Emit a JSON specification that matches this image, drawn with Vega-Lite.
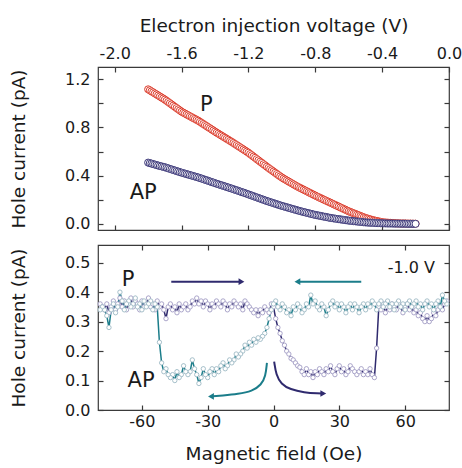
{
"$schema": "https://vega.github.io/schema/vega-lite/v6.json",
"background": "white",
"padding": {"left": 8, "top": 15, "right": 5, "bottom": 0},
"spacing": 10,
"resolve": {"scale": {"color": "independent", "stroke": "independent"}},
"config": {
 "view": {"stroke": "#3a3a3a", "strokeWidth": 1.2},
 "axis": {"grid": false, "domain": false, "tickColor": "#3a3a3a", "tickWidth": 1.2,
  "labelFont": "DejaVu Sans", "labelFontSize": 16, "labelColor": "#1a1a1a",
  "titleFont": "DejaVu Sans", "titleFontSize": 18.5, "titleFontWeight": "normal", "titleColor": "#1a1a1a",
  "labelOverlap": false, "labelFlush": false},
 "text": {"font": "DejaVu Sans", "color": "#1a1a1a"}
},
"datasets": {
 "iv": [
{"s":"P","v":-1.80,"i":1.115},{"s":"P","v":-1.79,"i":1.107},{"s":"P","v":-1.78,"i":1.098},{"s":"P","v":-1.77,"i":1.090},{"s":"P","v":-1.76,"i":1.081},
{"s":"P","v":-1.75,"i":1.073},{"s":"P","v":-1.74,"i":1.064},{"s":"P","v":-1.73,"i":1.056},{"s":"P","v":-1.72,"i":1.047},{"s":"P","v":-1.71,"i":1.039},
{"s":"P","v":-1.70,"i":1.030},{"s":"P","v":-1.69,"i":1.020},{"s":"P","v":-1.68,"i":1.010},{"s":"P","v":-1.67,"i":1.000},{"s":"P","v":-1.66,"i":0.990},
{"s":"P","v":-1.65,"i":0.980},{"s":"P","v":-1.64,"i":0.970},{"s":"P","v":-1.63,"i":0.960},{"s":"P","v":-1.62,"i":0.950},{"s":"P","v":-1.61,"i":0.940},
{"s":"P","v":-1.60,"i":0.930},{"s":"P","v":-1.59,"i":0.922},{"s":"P","v":-1.58,"i":0.915},{"s":"P","v":-1.57,"i":0.907},{"s":"P","v":-1.56,"i":0.900},
{"s":"P","v":-1.55,"i":0.892},{"s":"P","v":-1.54,"i":0.885},{"s":"P","v":-1.53,"i":0.877},{"s":"P","v":-1.52,"i":0.870},{"s":"P","v":-1.51,"i":0.862},
{"s":"P","v":-1.50,"i":0.855},{"s":"P","v":-1.49,"i":0.846},{"s":"P","v":-1.48,"i":0.837},{"s":"P","v":-1.47,"i":0.828},{"s":"P","v":-1.46,"i":0.819},
{"s":"P","v":-1.45,"i":0.810},{"s":"P","v":-1.44,"i":0.801},{"s":"P","v":-1.43,"i":0.792},{"s":"P","v":-1.42,"i":0.783},{"s":"P","v":-1.41,"i":0.774},
{"s":"P","v":-1.40,"i":0.765},{"s":"P","v":-1.39,"i":0.756},{"s":"P","v":-1.38,"i":0.748},{"s":"P","v":-1.37,"i":0.739},{"s":"P","v":-1.36,"i":0.731},
{"s":"P","v":-1.35,"i":0.722},{"s":"P","v":-1.34,"i":0.714},{"s":"P","v":-1.33,"i":0.705},{"s":"P","v":-1.32,"i":0.697},{"s":"P","v":-1.31,"i":0.688},
{"s":"P","v":-1.30,"i":0.680},{"s":"P","v":-1.29,"i":0.671},{"s":"P","v":-1.28,"i":0.662},{"s":"P","v":-1.27,"i":0.653},{"s":"P","v":-1.26,"i":0.644},
{"s":"P","v":-1.25,"i":0.635},{"s":"P","v":-1.24,"i":0.626},{"s":"P","v":-1.23,"i":0.617},{"s":"P","v":-1.22,"i":0.608},{"s":"P","v":-1.21,"i":0.599},
{"s":"P","v":-1.20,"i":0.590},{"s":"P","v":-1.19,"i":0.579},{"s":"P","v":-1.18,"i":0.569},{"s":"P","v":-1.17,"i":0.558},{"s":"P","v":-1.16,"i":0.548},
{"s":"P","v":-1.15,"i":0.537},{"s":"P","v":-1.14,"i":0.527},{"s":"P","v":-1.13,"i":0.516},{"s":"P","v":-1.12,"i":0.506},{"s":"P","v":-1.11,"i":0.495},
{"s":"P","v":-1.10,"i":0.485},{"s":"P","v":-1.09,"i":0.474},{"s":"P","v":-1.08,"i":0.464},{"s":"P","v":-1.07,"i":0.454},{"s":"P","v":-1.06,"i":0.444},
{"s":"P","v":-1.05,"i":0.434},{"s":"P","v":-1.04,"i":0.424},{"s":"P","v":-1.03,"i":0.414},{"s":"P","v":-1.02,"i":0.404},{"s":"P","v":-1.01,"i":0.394},
{"s":"P","v":-1.00,"i":0.385},{"s":"P","v":-0.99,"i":0.376},{"s":"P","v":-0.98,"i":0.368},{"s":"P","v":-0.97,"i":0.360},{"s":"P","v":-0.96,"i":0.352},
{"s":"P","v":-0.95,"i":0.344},{"s":"P","v":-0.94,"i":0.336},{"s":"P","v":-0.93,"i":0.328},{"s":"P","v":-0.92,"i":0.320},{"s":"P","v":-0.91,"i":0.312},
{"s":"P","v":-0.90,"i":0.305},{"s":"P","v":-0.89,"i":0.298},{"s":"P","v":-0.88,"i":0.291},{"s":"P","v":-0.87,"i":0.284},{"s":"P","v":-0.86,"i":0.277},
{"s":"P","v":-0.85,"i":0.270},{"s":"P","v":-0.84,"i":0.263},{"s":"P","v":-0.83,"i":0.256},{"s":"P","v":-0.82,"i":0.249},{"s":"P","v":-0.81,"i":0.242},
{"s":"P","v":-0.80,"i":0.235},{"s":"P","v":-0.79,"i":0.228},{"s":"P","v":-0.78,"i":0.222},{"s":"P","v":-0.77,"i":0.215},{"s":"P","v":-0.76,"i":0.209},
{"s":"P","v":-0.75,"i":0.202},{"s":"P","v":-0.74,"i":0.196},{"s":"P","v":-0.73,"i":0.189},{"s":"P","v":-0.72,"i":0.183},{"s":"P","v":-0.71,"i":0.176},
{"s":"P","v":-0.70,"i":0.170},{"s":"P","v":-0.69,"i":0.163},{"s":"P","v":-0.68,"i":0.157},{"s":"P","v":-0.67,"i":0.150},{"s":"P","v":-0.66,"i":0.144},
{"s":"P","v":-0.65,"i":0.137},{"s":"P","v":-0.64,"i":0.131},{"s":"P","v":-0.63,"i":0.124},{"s":"P","v":-0.62,"i":0.118},{"s":"P","v":-0.61,"i":0.111},
{"s":"P","v":-0.60,"i":0.105},{"s":"P","v":-0.59,"i":0.099},{"s":"P","v":-0.58,"i":0.094},{"s":"P","v":-0.57,"i":0.088},{"s":"P","v":-0.56,"i":0.083},
{"s":"P","v":-0.55,"i":0.077},{"s":"P","v":-0.54,"i":0.072},{"s":"P","v":-0.53,"i":0.066},{"s":"P","v":-0.52,"i":0.061},{"s":"P","v":-0.51,"i":0.055},
{"s":"P","v":-0.50,"i":0.050},{"s":"P","v":-0.49,"i":0.046},{"s":"P","v":-0.48,"i":0.042},{"s":"P","v":-0.47,"i":0.038},{"s":"P","v":-0.46,"i":0.034},
{"s":"P","v":-0.45,"i":0.030},{"s":"P","v":-0.44,"i":0.027},{"s":"P","v":-0.43,"i":0.024},{"s":"P","v":-0.42,"i":0.021},{"s":"P","v":-0.41,"i":0.018},
{"s":"P","v":-0.40,"i":0.015},{"s":"P","v":-0.39,"i":0.013},{"s":"P","v":-0.38,"i":0.012},{"s":"P","v":-0.37,"i":0.011},{"s":"P","v":-0.36,"i":0.010},
{"s":"P","v":-0.35,"i":0.009},{"s":"P","v":-0.34,"i":0.008},{"s":"P","v":-0.33,"i":0.007},{"s":"P","v":-0.32,"i":0.006},{"s":"P","v":-0.31,"i":0.005},
{"s":"P","v":-0.30,"i":0.005},{"s":"P","v":-0.29,"i":0.004},{"s":"P","v":-0.28,"i":0.004},{"s":"P","v":-0.27,"i":0.004},{"s":"P","v":-0.26,"i":0.004},
{"s":"P","v":-0.25,"i":0.003},{"s":"P","v":-0.24,"i":0.003},{"s":"P","v":-0.23,"i":0.003},{"s":"P","v":-0.22,"i":0.002},{"s":"P","v":-0.21,"i":0.002},
{"s":"P","v":-0.20,"i":0.002},
{"s":"AP","v":-1.80,"i":0.508},{"s":"AP","v":-1.79,"i":0.504},{"s":"AP","v":-1.78,"i":0.500},{"s":"AP","v":-1.77,"i":0.496},{"s":"AP","v":-1.76,"i":0.492},
{"s":"AP","v":-1.75,"i":0.488},{"s":"AP","v":-1.74,"i":0.484},{"s":"AP","v":-1.73,"i":0.480},{"s":"AP","v":-1.72,"i":0.477},{"s":"AP","v":-1.71,"i":0.473},
{"s":"AP","v":-1.70,"i":0.470},{"s":"AP","v":-1.69,"i":0.465},{"s":"AP","v":-1.68,"i":0.461},{"s":"AP","v":-1.67,"i":0.456},{"s":"AP","v":-1.66,"i":0.452},
{"s":"AP","v":-1.65,"i":0.447},{"s":"AP","v":-1.64,"i":0.443},{"s":"AP","v":-1.63,"i":0.438},{"s":"AP","v":-1.62,"i":0.434},{"s":"AP","v":-1.61,"i":0.429},
{"s":"AP","v":-1.60,"i":0.425},{"s":"AP","v":-1.59,"i":0.421},{"s":"AP","v":-1.58,"i":0.417},{"s":"AP","v":-1.57,"i":0.413},{"s":"AP","v":-1.56,"i":0.409},
{"s":"AP","v":-1.55,"i":0.405},{"s":"AP","v":-1.54,"i":0.401},{"s":"AP","v":-1.53,"i":0.397},{"s":"AP","v":-1.52,"i":0.393},{"s":"AP","v":-1.51,"i":0.389},
{"s":"AP","v":-1.50,"i":0.385},{"s":"AP","v":-1.49,"i":0.380},{"s":"AP","v":-1.48,"i":0.376},{"s":"AP","v":-1.47,"i":0.371},{"s":"AP","v":-1.46,"i":0.366},
{"s":"AP","v":-1.45,"i":0.362},{"s":"AP","v":-1.44,"i":0.357},{"s":"AP","v":-1.43,"i":0.352},{"s":"AP","v":-1.42,"i":0.347},{"s":"AP","v":-1.41,"i":0.343},
{"s":"AP","v":-1.40,"i":0.338},{"s":"AP","v":-1.39,"i":0.333},{"s":"AP","v":-1.38,"i":0.329},{"s":"AP","v":-1.37,"i":0.324},{"s":"AP","v":-1.36,"i":0.320},
{"s":"AP","v":-1.35,"i":0.315},{"s":"AP","v":-1.34,"i":0.311},{"s":"AP","v":-1.33,"i":0.306},{"s":"AP","v":-1.32,"i":0.302},{"s":"AP","v":-1.31,"i":0.297},
{"s":"AP","v":-1.30,"i":0.293},{"s":"AP","v":-1.29,"i":0.288},{"s":"AP","v":-1.28,"i":0.283},{"s":"AP","v":-1.27,"i":0.279},{"s":"AP","v":-1.26,"i":0.274},
{"s":"AP","v":-1.25,"i":0.269},{"s":"AP","v":-1.24,"i":0.264},{"s":"AP","v":-1.23,"i":0.260},{"s":"AP","v":-1.22,"i":0.255},{"s":"AP","v":-1.21,"i":0.250},
{"s":"AP","v":-1.20,"i":0.245},{"s":"AP","v":-1.19,"i":0.240},{"s":"AP","v":-1.18,"i":0.235},{"s":"AP","v":-1.17,"i":0.230},{"s":"AP","v":-1.16,"i":0.225},
{"s":"AP","v":-1.15,"i":0.220},{"s":"AP","v":-1.14,"i":0.215},{"s":"AP","v":-1.13,"i":0.210},{"s":"AP","v":-1.12,"i":0.205},{"s":"AP","v":-1.11,"i":0.200},
{"s":"AP","v":-1.10,"i":0.195},{"s":"AP","v":-1.09,"i":0.190},{"s":"AP","v":-1.08,"i":0.186},{"s":"AP","v":-1.07,"i":0.181},{"s":"AP","v":-1.06,"i":0.177},
{"s":"AP","v":-1.05,"i":0.172},{"s":"AP","v":-1.04,"i":0.168},{"s":"AP","v":-1.03,"i":0.163},{"s":"AP","v":-1.02,"i":0.159},{"s":"AP","v":-1.01,"i":0.154},
{"s":"AP","v":-1.00,"i":0.150},{"s":"AP","v":-0.99,"i":0.146},{"s":"AP","v":-0.98,"i":0.142},{"s":"AP","v":-0.97,"i":0.138},{"s":"AP","v":-0.96,"i":0.134},
{"s":"AP","v":-0.95,"i":0.130},{"s":"AP","v":-0.94,"i":0.126},{"s":"AP","v":-0.93,"i":0.122},{"s":"AP","v":-0.92,"i":0.118},{"s":"AP","v":-0.91,"i":0.114},
{"s":"AP","v":-0.90,"i":0.110},{"s":"AP","v":-0.89,"i":0.106},{"s":"AP","v":-0.88,"i":0.103},{"s":"AP","v":-0.87,"i":0.099},{"s":"AP","v":-0.86,"i":0.096},
{"s":"AP","v":-0.85,"i":0.092},{"s":"AP","v":-0.84,"i":0.089},{"s":"AP","v":-0.83,"i":0.085},{"s":"AP","v":-0.82,"i":0.082},{"s":"AP","v":-0.81,"i":0.078},
{"s":"AP","v":-0.80,"i":0.075},{"s":"AP","v":-0.79,"i":0.072},{"s":"AP","v":-0.78,"i":0.070},{"s":"AP","v":-0.77,"i":0.067},{"s":"AP","v":-0.76,"i":0.064},
{"s":"AP","v":-0.75,"i":0.061},{"s":"AP","v":-0.74,"i":0.059},{"s":"AP","v":-0.73,"i":0.056},{"s":"AP","v":-0.72,"i":0.053},{"s":"AP","v":-0.71,"i":0.050},
{"s":"AP","v":-0.70,"i":0.048},{"s":"AP","v":-0.69,"i":0.046},{"s":"AP","v":-0.68,"i":0.044},{"s":"AP","v":-0.67,"i":0.042},{"s":"AP","v":-0.66,"i":0.040},
{"s":"AP","v":-0.65,"i":0.038},{"s":"AP","v":-0.64,"i":0.036},{"s":"AP","v":-0.63,"i":0.034},{"s":"AP","v":-0.62,"i":0.032},{"s":"AP","v":-0.61,"i":0.030},
{"s":"AP","v":-0.60,"i":0.028},{"s":"AP","v":-0.59,"i":0.026},{"s":"AP","v":-0.58,"i":0.025},{"s":"AP","v":-0.57,"i":0.023},{"s":"AP","v":-0.56,"i":0.022},
{"s":"AP","v":-0.55,"i":0.020},{"s":"AP","v":-0.54,"i":0.019},{"s":"AP","v":-0.53,"i":0.017},{"s":"AP","v":-0.52,"i":0.016},{"s":"AP","v":-0.51,"i":0.014},
{"s":"AP","v":-0.50,"i":0.013},{"s":"AP","v":-0.49,"i":0.012},{"s":"AP","v":-0.48,"i":0.011},{"s":"AP","v":-0.47,"i":0.010},{"s":"AP","v":-0.46,"i":0.010},
{"s":"AP","v":-0.45,"i":0.009},{"s":"AP","v":-0.44,"i":0.008},{"s":"AP","v":-0.43,"i":0.007},{"s":"AP","v":-0.42,"i":0.007},{"s":"AP","v":-0.41,"i":0.006},
{"s":"AP","v":-0.40,"i":0.006},{"s":"AP","v":-0.39,"i":0.005},{"s":"AP","v":-0.38,"i":0.005},{"s":"AP","v":-0.37,"i":0.004},{"s":"AP","v":-0.36,"i":0.004},
{"s":"AP","v":-0.35,"i":0.004},{"s":"AP","v":-0.34,"i":0.004},{"s":"AP","v":-0.33,"i":0.003},{"s":"AP","v":-0.32,"i":0.003},{"s":"AP","v":-0.31,"i":0.003},
{"s":"AP","v":-0.30,"i":0.003},{"s":"AP","v":-0.29,"i":0.002},{"s":"AP","v":-0.28,"i":0.002},{"s":"AP","v":-0.27,"i":0.002},{"s":"AP","v":-0.26,"i":0.002},
{"s":"AP","v":-0.25,"i":0.001},{"s":"AP","v":-0.24,"i":0.001},{"s":"AP","v":-0.23,"i":0.001},{"s":"AP","v":-0.22,"i":0.001},{"s":"AP","v":-0.21,"i":0.001},
{"s":"AP","v":-0.20,"i":0.001}
 ],
 "annTop": [{"t":"P","x":-1.49,"y":0.934},{"t":"AP","x":-1.91,"y":0.21}],
 "mr": [
{"sweep":"up","B":-79,"I":0.36},{"sweep":"up","B":-78,"I":0.35},{"sweep":"up","B":-77,"I":0.34},{"sweep":"up","B":-76,"I":0.36},{"sweep":"up","B":-75,"I":0.33},
{"sweep":"up","B":-74,"I":0.35},{"sweep":"up","B":-73,"I":0.37},{"sweep":"up","B":-72,"I":0.34},{"sweep":"up","B":-71,"I":0.36},{"sweep":"up","B":-70,"I":0.38},
{"sweep":"up","B":-69,"I":0.35},{"sweep":"up","B":-68,"I":0.37},{"sweep":"up","B":-67,"I":0.34},{"sweep":"up","B":-66,"I":0.36},{"sweep":"up","B":-65,"I":0.38},
{"sweep":"up","B":-64,"I":0.35},{"sweep":"up","B":-63,"I":0.37},{"sweep":"up","B":-62,"I":0.36},{"sweep":"up","B":-61,"I":0.34},{"sweep":"up","B":-60,"I":0.37},
{"sweep":"up","B":-59,"I":0.35},{"sweep":"up","B":-58,"I":0.36},{"sweep":"up","B":-57,"I":0.38},{"sweep":"up","B":-56,"I":0.35},{"sweep":"up","B":-55,"I":0.36},
{"sweep":"up","B":-54,"I":0.34},{"sweep":"up","B":-53,"I":0.37},{"sweep":"up","B":-52,"I":0.35},{"sweep":"up","B":-51,"I":0.36},{"sweep":"up","B":-50,"I":0.34},
{"sweep":"up","B":-49,"I":0.31},{"sweep":"up","B":-48,"I":0.35},{"sweep":"up","B":-47,"I":0.36},{"sweep":"up","B":-46,"I":0.34},{"sweep":"up","B":-45,"I":0.35},
{"sweep":"up","B":-44,"I":0.33},{"sweep":"up","B":-43,"I":0.36},{"sweep":"up","B":-42,"I":0.34},{"sweep":"up","B":-41,"I":0.35},{"sweep":"up","B":-40,"I":0.36},
{"sweep":"up","B":-39,"I":0.34},{"sweep":"up","B":-38,"I":0.35},{"sweep":"up","B":-37,"I":0.37},{"sweep":"up","B":-36,"I":0.36},{"sweep":"up","B":-35,"I":0.38},
{"sweep":"up","B":-34,"I":0.36},{"sweep":"up","B":-33,"I":0.37},{"sweep":"up","B":-32,"I":0.35},{"sweep":"up","B":-31,"I":0.37},{"sweep":"up","B":-30,"I":0.36},
{"sweep":"up","B":-29,"I":0.34},{"sweep":"up","B":-28,"I":0.36},{"sweep":"up","B":-27,"I":0.35},{"sweep":"up","B":-26,"I":0.37},{"sweep":"up","B":-25,"I":0.36},
{"sweep":"up","B":-24,"I":0.35},{"sweep":"up","B":-23,"I":0.37},{"sweep":"up","B":-22,"I":0.36},{"sweep":"up","B":-21,"I":0.34},{"sweep":"up","B":-20,"I":0.36},
{"sweep":"up","B":-19,"I":0.35},{"sweep":"up","B":-18,"I":0.37},{"sweep":"up","B":-17,"I":0.36},{"sweep":"up","B":-16,"I":0.35},{"sweep":"up","B":-15,"I":0.36},
{"sweep":"up","B":-14,"I":0.34},{"sweep":"up","B":-13,"I":0.37},{"sweep":"up","B":-12,"I":0.36},{"sweep":"up","B":-11,"I":0.35},{"sweep":"up","B":-10,"I":0.34},
{"sweep":"up","B":-9,"I":0.33},{"sweep":"up","B":-8,"I":0.34},{"sweep":"up","B":-7,"I":0.32},{"sweep":"up","B":-6,"I":0.34},{"sweep":"up","B":-5,"I":0.33},
{"sweep":"up","B":-4,"I":0.35},{"sweep":"up","B":-3,"I":0.34},{"sweep":"up","B":-2,"I":0.33},{"sweep":"up","B":-1,"I":0.36},{"sweep":"up","B":0,"I":0.35},
{"sweep":"up","B":1,"I":0.31},{"sweep":"up","B":2,"I":0.28},{"sweep":"up","B":3,"I":0.26},{"sweep":"up","B":4,"I":0.235},{"sweep":"up","B":5,"I":0.22},
{"sweep":"up","B":6,"I":0.20},{"sweep":"up","B":7,"I":0.19},{"sweep":"up","B":8,"I":0.175},{"sweep":"up","B":9,"I":0.17},{"sweep":"up","B":10,"I":0.16},
{"sweep":"up","B":11,"I":0.15},{"sweep":"up","B":12,"I":0.145},{"sweep":"up","B":13,"I":0.13},{"sweep":"up","B":14,"I":0.12},{"sweep":"up","B":15,"I":0.14},
{"sweep":"up","B":16,"I":0.12},{"sweep":"up","B":17,"I":0.13},{"sweep":"up","B":18,"I":0.11},{"sweep":"up","B":19,"I":0.13},{"sweep":"up","B":20,"I":0.12},
{"sweep":"up","B":21,"I":0.14},{"sweep":"up","B":22,"I":0.13},{"sweep":"up","B":23,"I":0.12},{"sweep":"up","B":24,"I":0.14},{"sweep":"up","B":25,"I":0.13},
{"sweep":"up","B":26,"I":0.15},{"sweep":"up","B":27,"I":0.13},{"sweep":"up","B":28,"I":0.12},{"sweep":"up","B":29,"I":0.14},{"sweep":"up","B":30,"I":0.15},
{"sweep":"up","B":31,"I":0.13},{"sweep":"up","B":32,"I":0.14},{"sweep":"up","B":33,"I":0.12},{"sweep":"up","B":34,"I":0.13},{"sweep":"up","B":35,"I":0.15},
{"sweep":"up","B":36,"I":0.14},{"sweep":"up","B":37,"I":0.13},{"sweep":"up","B":38,"I":0.12},{"sweep":"up","B":39,"I":0.13},{"sweep":"up","B":40,"I":0.14},
{"sweep":"up","B":41,"I":0.12},{"sweep":"up","B":42,"I":0.13},{"sweep":"up","B":43,"I":0.12},{"sweep":"up","B":44,"I":0.14},{"sweep":"up","B":45,"I":0.12},
{"sweep":"up","B":46,"I":0.11},{"sweep":"up","B":47,"I":0.21},{"sweep":"up","B":48,"I":0.35},{"sweep":"up","B":49,"I":0.34},{"sweep":"up","B":50,"I":0.36},
{"sweep":"up","B":51,"I":0.33},{"sweep":"up","B":52,"I":0.35},{"sweep":"up","B":53,"I":0.34},{"sweep":"up","B":54,"I":0.36},{"sweep":"up","B":55,"I":0.35},
{"sweep":"up","B":56,"I":0.34},{"sweep":"up","B":57,"I":0.36},{"sweep":"up","B":58,"I":0.35},{"sweep":"up","B":59,"I":0.33},{"sweep":"up","B":60,"I":0.35},
{"sweep":"up","B":61,"I":0.36},{"sweep":"up","B":62,"I":0.34},{"sweep":"up","B":63,"I":0.35},{"sweep":"up","B":64,"I":0.33},{"sweep":"up","B":65,"I":0.34},
{"sweep":"up","B":66,"I":0.32},{"sweep":"up","B":67,"I":0.33},{"sweep":"up","B":68,"I":0.31},{"sweep":"up","B":69,"I":0.30},{"sweep":"up","B":70,"I":0.32},
{"sweep":"up","B":71,"I":0.30},{"sweep":"up","B":72,"I":0.31},{"sweep":"up","B":73,"I":0.33},{"sweep":"up","B":74,"I":0.32},{"sweep":"up","B":75,"I":0.34},
{"sweep":"up","B":76,"I":0.35},{"sweep":"up","B":77,"I":0.34},{"sweep":"up","B":78,"I":0.36},{"sweep":"up","B":79,"I":0.37},
{"sweep":"down","B":79,"I":0.36},{"sweep":"down","B":78,"I":0.37},{"sweep":"down","B":77,"I":0.39},{"sweep":"down","B":76,"I":0.35},{"sweep":"down","B":75,"I":0.37},
{"sweep":"down","B":74,"I":0.36},{"sweep":"down","B":73,"I":0.34},{"sweep":"down","B":72,"I":0.36},{"sweep":"down","B":71,"I":0.35},{"sweep":"down","B":70,"I":0.37},
{"sweep":"down","B":69,"I":0.36},{"sweep":"down","B":68,"I":0.34},{"sweep":"down","B":67,"I":0.36},{"sweep":"down","B":66,"I":0.35},{"sweep":"down","B":65,"I":0.37},
{"sweep":"down","B":64,"I":0.36},{"sweep":"down","B":63,"I":0.35},{"sweep":"down","B":62,"I":0.37},{"sweep":"down","B":61,"I":0.36},{"sweep":"down","B":60,"I":0.34},
{"sweep":"down","B":59,"I":0.36},{"sweep":"down","B":58,"I":0.35},{"sweep":"down","B":57,"I":0.37},{"sweep":"down","B":56,"I":0.36},{"sweep":"down","B":55,"I":0.34},
{"sweep":"down","B":54,"I":0.36},{"sweep":"down","B":53,"I":0.35},{"sweep":"down","B":52,"I":0.37},{"sweep":"down","B":51,"I":0.36},{"sweep":"down","B":50,"I":0.35},
{"sweep":"down","B":49,"I":0.37},{"sweep":"down","B":48,"I":0.36},{"sweep":"down","B":47,"I":0.34},{"sweep":"down","B":46,"I":0.36},{"sweep":"down","B":45,"I":0.37},
{"sweep":"down","B":44,"I":0.35},{"sweep":"down","B":43,"I":0.36},{"sweep":"down","B":42,"I":0.34},{"sweep":"down","B":41,"I":0.36},{"sweep":"down","B":40,"I":0.35},
{"sweep":"down","B":39,"I":0.33},{"sweep":"down","B":38,"I":0.35},{"sweep":"down","B":37,"I":0.36},{"sweep":"down","B":36,"I":0.34},{"sweep":"down","B":35,"I":0.36},
{"sweep":"down","B":34,"I":0.35},{"sweep":"down","B":33,"I":0.33},{"sweep":"down","B":32,"I":0.35},{"sweep":"down","B":31,"I":0.36},{"sweep":"down","B":30,"I":0.34},
{"sweep":"down","B":29,"I":0.36},{"sweep":"down","B":28,"I":0.35},{"sweep":"down","B":27,"I":0.37},{"sweep":"down","B":26,"I":0.36},{"sweep":"down","B":25,"I":0.34},
{"sweep":"down","B":24,"I":0.32},{"sweep":"down","B":23,"I":0.35},{"sweep":"down","B":22,"I":0.36},{"sweep":"down","B":21,"I":0.34},{"sweep":"down","B":20,"I":0.35},
{"sweep":"down","B":19,"I":0.37},{"sweep":"down","B":18,"I":0.36},{"sweep":"down","B":17,"I":0.39},{"sweep":"down","B":16,"I":0.35},{"sweep":"down","B":15,"I":0.36},
{"sweep":"down","B":14,"I":0.34},{"sweep":"down","B":13,"I":0.33},{"sweep":"down","B":12,"I":0.35},{"sweep":"down","B":11,"I":0.36},{"sweep":"down","B":10,"I":0.34},
{"sweep":"down","B":9,"I":0.35},{"sweep":"down","B":8,"I":0.32},{"sweep":"down","B":7,"I":0.34},{"sweep":"down","B":6,"I":0.33},{"sweep":"down","B":5,"I":0.35},
{"sweep":"down","B":4,"I":0.36},{"sweep":"down","B":3,"I":0.34},{"sweep":"down","B":2,"I":0.35},{"sweep":"down","B":1,"I":0.37},{"sweep":"down","B":0,"I":0.36},
{"sweep":"down","B":-1,"I":0.34},{"sweep":"down","B":-2,"I":0.31},{"sweep":"down","B":-3,"I":0.28},{"sweep":"down","B":-4,"I":0.26},{"sweep":"down","B":-5,"I":0.25},
{"sweep":"down","B":-6,"I":0.24},{"sweep":"down","B":-7,"I":0.245},{"sweep":"down","B":-8,"I":0.23},{"sweep":"down","B":-9,"I":0.24},{"sweep":"down","B":-10,"I":0.22},
{"sweep":"down","B":-11,"I":0.23},{"sweep":"down","B":-12,"I":0.21},{"sweep":"down","B":-13,"I":0.22},{"sweep":"down","B":-14,"I":0.20},{"sweep":"down","B":-15,"I":0.19},
{"sweep":"down","B":-16,"I":0.18},{"sweep":"down","B":-17,"I":0.19},{"sweep":"down","B":-18,"I":0.17},{"sweep":"down","B":-19,"I":0.16},{"sweep":"down","B":-20,"I":0.17},
{"sweep":"down","B":-21,"I":0.15},{"sweep":"down","B":-22,"I":0.14},{"sweep":"down","B":-23,"I":0.16},{"sweep":"down","B":-24,"I":0.15},{"sweep":"down","B":-25,"I":0.13},
{"sweep":"down","B":-26,"I":0.14},{"sweep":"down","B":-27,"I":0.12},{"sweep":"down","B":-28,"I":0.14},{"sweep":"down","B":-29,"I":0.13},{"sweep":"down","B":-30,"I":0.11},
{"sweep":"down","B":-31,"I":0.12},{"sweep":"down","B":-32,"I":0.14},{"sweep":"down","B":-33,"I":0.11},{"sweep":"down","B":-34,"I":0.09},{"sweep":"down","B":-35,"I":0.12},
{"sweep":"down","B":-36,"I":0.14},{"sweep":"down","B":-37,"I":0.17},{"sweep":"down","B":-38,"I":0.13},{"sweep":"down","B":-39,"I":0.12},{"sweep":"down","B":-40,"I":0.13},
{"sweep":"down","B":-41,"I":0.15},{"sweep":"down","B":-42,"I":0.12},{"sweep":"down","B":-43,"I":0.11},{"sweep":"down","B":-44,"I":0.13},{"sweep":"down","B":-45,"I":0.10},
{"sweep":"down","B":-46,"I":0.12},{"sweep":"down","B":-47,"I":0.11},{"sweep":"down","B":-48,"I":0.12},{"sweep":"down","B":-49,"I":0.14},{"sweep":"down","B":-50,"I":0.13},
{"sweep":"down","B":-51,"I":0.16},{"sweep":"down","B":-52,"I":0.23},{"sweep":"down","B":-53,"I":0.35},{"sweep":"down","B":-54,"I":0.36},{"sweep":"down","B":-55,"I":0.34},
{"sweep":"down","B":-56,"I":0.37},{"sweep":"down","B":-57,"I":0.36},{"sweep":"down","B":-58,"I":0.35},{"sweep":"down","B":-59,"I":0.37},{"sweep":"down","B":-60,"I":0.34},
{"sweep":"down","B":-61,"I":0.36},{"sweep":"down","B":-62,"I":0.35},{"sweep":"down","B":-63,"I":0.38},{"sweep":"down","B":-64,"I":0.36},{"sweep":"down","B":-65,"I":0.35},
{"sweep":"down","B":-66,"I":0.37},{"sweep":"down","B":-67,"I":0.36},{"sweep":"down","B":-68,"I":0.34},{"sweep":"down","B":-69,"I":0.37},{"sweep":"down","B":-70,"I":0.40},
{"sweep":"down","B":-71,"I":0.35},{"sweep":"down","B":-72,"I":0.33},{"sweep":"down","B":-73,"I":0.36},{"sweep":"down","B":-74,"I":0.34},{"sweep":"down","B":-75,"I":0.28},
{"sweep":"down","B":-76,"I":0.32},{"sweep":"down","B":-77,"I":0.34},{"sweep":"down","B":-78,"I":0.35},{"sweep":"down","B":-79,"I":0.34}
 ],
 "arrowsStraight": [{"sweep":"up","x1":-46.6,"x2":-14.6,"y":0.4355},{"sweep":"down","x1":40,"x2":10.9,"y":0.4355}],
 "curves": [
  {"sweep":"down","x":-3.0,"y":0.160},{"sweep":"down","x":-3.6,"y":0.115},{"sweep":"down","x":-5.6,"y":0.085},{"sweep":"down","x":-9.7,"y":0.064},{"sweep":"down","x":-16.1,"y":0.054},{"sweep":"down","x":-23.4,"y":0.049},{"sweep":"down","x":-28.5,"y":0.046},
  {"sweep":"up","x":0.3,"y":0.164},{"sweep":"up","x":1.2,"y":0.119},{"sweep":"up","x":3.5,"y":0.088},{"sweep":"up","x":7.6,"y":0.070},{"sweep":"up","x":14.0,"y":0.059},{"sweep":"up","x":20.4,"y":0.056},{"sweep":"up","x":22.7,"y":0.056}
 ],
 "headsRight": [{"sweep":"up","x":-14.6,"y":0.4355},{"sweep":"up","x":22.7,"y":0.056}],
 "headsLeft": [{"sweep":"down","x":10.9,"y":0.4355},{"sweep":"down","x":-28.5,"y":0.046}],
 "annBot": [{"t":"P","x":-69.2,"y":0.421},{"t":"AP","x":-66.5,"y":0.079}],
 "annV": [{"t":"-1.0 V","x":52.1,"y":0.464}]
},
"vconcat": [
 {
  "width": 351, "height": 163,
  "resolve": {"axis": {"x": "independent", "y": "independent"}},
  "layer": [
   {
    "data": {"name": "iv"},
    "mark": {"type": "point", "shape": "circle", "filled": true, "fill": "white", "size": 50, "strokeWidth": 1, "opacity": 1},
    "encoding": {
     "x": {"field": "v", "type": "quantitative", "scale": {"domain": [-2.1, 0], "nice": false, "zero": false},
      "axis": {"orient": "top", "title": "Electron injection voltage (V)", "values": [-2, -1.6, -1.2, -0.8, -0.4, 0], "format": ".1f", "labelExpr": "replace(datum.label, '\u2212', '-')", "ticks": false, "tickSize": 0, "labelPadding": 6, "titlePadding": 10}},
     "y": {"field": "i", "type": "quantitative", "scale": {"domain": [-0.05, 1.3], "nice": false, "zero": false},
      "axis": {"orient": "left", "title": "Hole current (pA)", "values": [0, 0.4, 0.8, 1.2], "format": ".1f", "ticks": false, "tickSize": 0, "labelPadding": 8, "titlePadding": 36}},
     "stroke": {"field": "s", "type": "nominal", "scale": {"domain": ["P", "AP"], "range": ["#dc3b2b", "#3c3879"]}, "legend": null}
    }
   },
   {
    "data": {"name": "annTop"},
    "transform": [{"filter": "datum.t == 'P'"}],
    "mark": {"type": "text", "fontSize": 21, "align": "left", "baseline": "alphabetic"},
    "encoding": {
     "x": {"field": "x", "type": "quantitative", "scale": {"domain": [-2.1, 0], "nice": false, "zero": false},
      "axis": {"orient": "bottom", "title": null, "labels": false, "tickSize": -5, "minExtent": 0, "values": [-2, -1.6, -1.2, -0.8, -0.4, 0]}},
     "y": {"field": "y", "type": "quantitative", "scale": {"domain": [-0.05, 1.3], "nice": false, "zero": false},
      "axis": {"orient": "right", "title": null, "labels": false, "tickSize": -5, "minExtent": 0, "values": [0, 0.2, 0.4, 0.6, 0.8, 1, 1.2]}},
     "text": {"field": "t"}
    }
   },
   {
    "data": {"name": "annTop"},
    "transform": [{"filter": "datum.t == 'AP'"}],
    "mark": {"type": "text", "fontSize": 21, "align": "left", "baseline": "alphabetic"},
    "encoding": {
     "x": {"field": "x", "type": "quantitative", "scale": {"domain": [-2.1, 0], "nice": false, "zero": false},
      "axis": {"orient": "top", "title": null, "labels": false, "tickSize": -5, "minExtent": 0, "values": [-2, -1.6, -1.2, -0.8, -0.4, 0]}},
     "y": {"field": "y", "type": "quantitative", "scale": {"domain": [-0.05, 1.3], "nice": false, "zero": false},
      "axis": {"orient": "left", "title": null, "labels": false, "tickSize": -5, "minExtent": 0, "values": [0, 0.2, 0.4, 0.6, 0.8, 1, 1.2]}},
     "text": {"field": "t"}
    }
   }
  ]
 },
 {
  "width": 351, "height": 165,
  "resolve": {"axis": {"x": "independent", "y": "independent"}},
  "layer": [
   {
    "data": {"name": "mr"},
    "mark": {"type": "line", "strokeWidth": 1.5},
    "encoding": {
     "x": {"field": "B", "type": "quantitative", "scale": {"domain": [-80, 80], "nice": false, "zero": false},
      "axis": {"orient": "bottom", "title": "Magnetic field (Oe)", "values": [-60, -30, 0, 30, 60], "labelExpr": "replace(datum.label, '\u2212', '-')", "ticks": false, "tickSize": 0, "labelPadding": 3, "titlePadding": 15}},
     "y": {"field": "I", "type": "quantitative", "scale": {"domain": [0, 0.56], "nice": false, "zero": false},
      "axis": {"orient": "left", "title": "Hole current (pA)", "values": [0, 0.1, 0.2, 0.3, 0.4, 0.5], "format": ".1f", "ticks": false, "tickSize": 0, "labelPadding": 8, "titlePadding": 36}},
     "color": {"field": "sweep", "type": "nominal", "scale": {"domain": ["up", "down"], "range": ["#2f2a6e", "#1b7d8a"]}, "legend": null}
    }
   },
   {
    "data": {"name": "mr"},
    "mark": {"type": "point", "shape": "circle", "filled": true, "fill": "white", "size": 19, "strokeWidth": 0.9, "opacity": 1},
    "encoding": {
     "x": {"field": "B", "type": "quantitative", "scale": {"domain": [-80, 80], "nice": false, "zero": false}, "axis": null},
     "y": {"field": "I", "type": "quantitative", "scale": {"domain": [0, 0.56], "nice": false, "zero": false}, "axis": null},
     "stroke": {"field": "sweep", "type": "nominal", "scale": {"domain": ["up", "down"], "range": ["#a29cc4", "#9db9c4"]}, "legend": null}
    }
   },
   {
    "data": {"name": "arrowsStraight"},
    "mark": {"type": "rule", "strokeWidth": 2},
    "encoding": {
     "x": {"field": "x1", "type": "quantitative", "scale": {"domain": [-80, 80], "nice": false, "zero": false}, "axis": null},
     "x2": {"field": "x2"},
     "y": {"field": "y", "type": "quantitative", "scale": {"domain": [0, 0.56], "nice": false, "zero": false}, "axis": null},
     "color": {"field": "sweep", "type": "nominal", "scale": {"domain": ["up", "down"], "range": ["#2f2a6e", "#1b7d8a"]}, "legend": null}
    }
   },
   {
    "data": {"name": "curves"},
    "mark": {"type": "line", "strokeWidth": 2, "interpolate": "basis"},
    "encoding": {
     "x": {"field": "x", "type": "quantitative", "scale": {"domain": [-80, 80], "nice": false, "zero": false}, "axis": null},
     "y": {"field": "y", "type": "quantitative", "scale": {"domain": [0, 0.56], "nice": false, "zero": false}, "axis": null},
     "color": {"field": "sweep", "type": "nominal", "scale": {"domain": ["up", "down"], "range": ["#2f2a6e", "#1b7d8a"]}, "legend": null}
    }
   },
   {
    "data": {"name": "headsRight"},
    "mark": {"type": "point", "shape": "triangle-right", "filled": true, "size": 45, "opacity": 1},
    "encoding": {
     "x": {"field": "x", "type": "quantitative", "scale": {"domain": [-80, 80], "nice": false, "zero": false}, "axis": null},
     "y": {"field": "y", "type": "quantitative", "scale": {"domain": [0, 0.56], "nice": false, "zero": false}, "axis": null},
     "color": {"field": "sweep", "type": "nominal", "scale": {"domain": ["up", "down"], "range": ["#2f2a6e", "#1b7d8a"]}, "legend": null}
    }
   },
   {
    "data": {"name": "headsLeft"},
    "mark": {"type": "point", "shape": "triangle-left", "filled": true, "size": 45, "opacity": 1},
    "encoding": {
     "x": {"field": "x", "type": "quantitative", "scale": {"domain": [-80, 80], "nice": false, "zero": false}, "axis": null},
     "y": {"field": "y", "type": "quantitative", "scale": {"domain": [0, 0.56], "nice": false, "zero": false}, "axis": null},
     "color": {"field": "sweep", "type": "nominal", "scale": {"domain": ["up", "down"], "range": ["#2f2a6e", "#1b7d8a"]}, "legend": null}
    }
   },
   {
    "data": {"name": "annBot"},
    "transform": [{"filter": "datum.t == 'P'"}],
    "mark": {"type": "text", "fontSize": 21, "align": "left", "baseline": "alphabetic"},
    "encoding": {
     "x": {"field": "x", "type": "quantitative", "scale": {"domain": [-80, 80], "nice": false, "zero": false},
      "axis": {"orient": "top", "title": null, "labels": false, "tickSize": -5, "minExtent": 0, "values": [-60, -30, 0, 30, 60]}},
     "y": {"field": "y", "type": "quantitative", "scale": {"domain": [0, 0.56], "nice": false, "zero": false},
      "axis": {"orient": "right", "title": null, "labels": false, "tickSize": -5, "minExtent": 0, "values": [0, 0.1, 0.2, 0.3, 0.4, 0.5]}},
     "text": {"field": "t"}
    }
   },
   {
    "data": {"name": "annBot"},
    "transform": [{"filter": "datum.t == 'AP'"}],
    "mark": {"type": "text", "fontSize": 21, "align": "left", "baseline": "alphabetic"},
    "encoding": {
     "x": {"field": "x", "type": "quantitative", "scale": {"domain": [-80, 80], "nice": false, "zero": false},
      "axis": {"orient": "bottom", "title": null, "labels": false, "tickSize": -5, "minExtent": 0, "values": [-60, -30, 0, 30, 60]}},
     "y": {"field": "y", "type": "quantitative", "scale": {"domain": [0, 0.56], "nice": false, "zero": false},
      "axis": {"orient": "left", "title": null, "labels": false, "tickSize": -5, "minExtent": 0, "values": [0, 0.1, 0.2, 0.3, 0.4, 0.5]}},
     "text": {"field": "t"}
    }
   },
   {
    "data": {"name": "annV"},
    "mark": {"type": "text", "fontSize": 16, "align": "left", "baseline": "alphabetic"},
    "encoding": {
     "x": {"field": "x", "type": "quantitative", "scale": {"domain": [-80, 80], "nice": false, "zero": false}, "axis": null},
     "y": {"field": "y", "type": "quantitative", "scale": {"domain": [0, 0.56], "nice": false, "zero": false}, "axis": null},
     "text": {"field": "t"}
    }
   }
  ]
 }
]
}
